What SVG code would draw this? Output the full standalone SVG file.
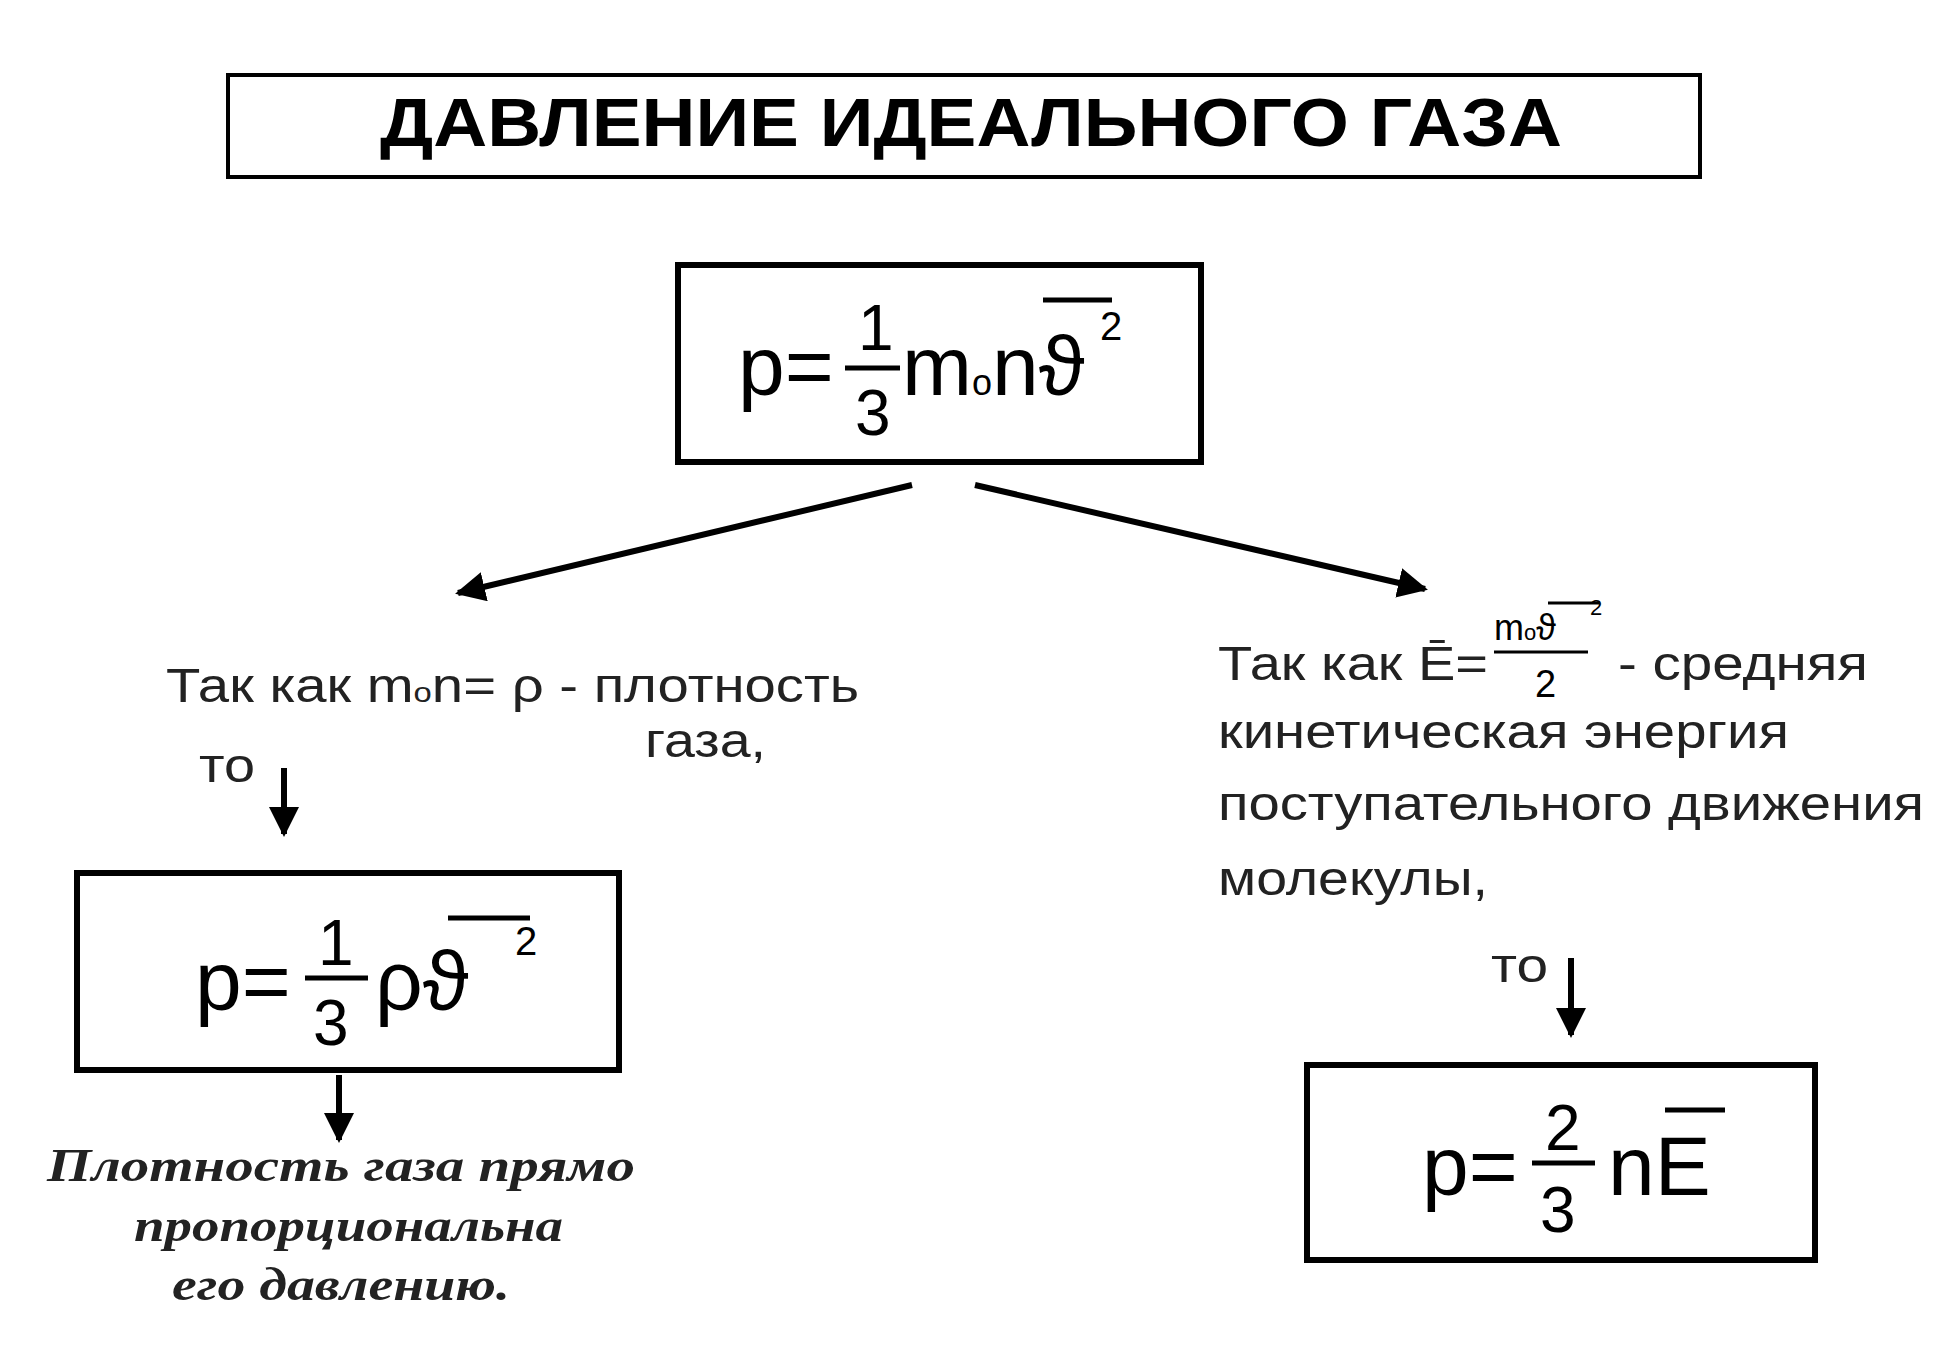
<svg xmlns="http://www.w3.org/2000/svg" width="1947" height="1350" viewBox="0 0 1947 1350">
<defs>
<marker id="ah" viewBox="0 0 10 10" refX="9" refY="5" markerWidth="5" markerHeight="5" orient="auto" markerUnits="strokeWidth"><path d="M0,0 L10,5 L0,10 z" fill="#000"/></marker>
<style>
.box{fill:#fff;stroke:#000;stroke-width:6}
.f{font-family:"Liberation Sans",Arial,sans-serif;fill:#000}
.t{font-family:"Liberation Sans",Arial,sans-serif;font-size:48px;fill:#222}
.it{font-family:"Liberation Serif","Times New Roman",serif;font-style:italic;font-weight:bold;font-size:46px;fill:#222}
.ln{stroke:#000;stroke-width:6;fill:none}
</style>
</defs>
<rect width="1947" height="1350" fill="#fff"/>
<g id="title"><rect x="228" y="75" width="1472" height="102" fill="#fff" stroke="#000" stroke-width="4"/>
<text x="380" y="146" class="f" font-size="68" font-weight="bold" textLength="1182" lengthAdjust="spacingAndGlyphs">ДАВЛЕНИЕ ИДЕАЛЬНОГО ГАЗА</text></g>
<g id="f1"><rect class="box" x="678" y="265" width="523" height="197"/>
<text x="738" y="395" class="f" font-size="84">p=</text>
<text x="858" y="350" class="f" font-size="64">1</text>
<line x1="845" y1="368" x2="900" y2="368" stroke="#000" stroke-width="5"/>
<text x="855" y="435" class="f" font-size="64">3</text>
<text x="902" y="395" class="f" font-size="84">m</text>
<text x="972" y="395" class="f" font-size="36">o</text>
<text x="992" y="395" class="f" font-size="84">nϑ</text>
<line x1="1043" y1="300" x2="1112" y2="300" stroke="#000" stroke-width="5"/>
<text x="1100" y="340" class="f" font-size="40">2</text></g>
<g id="connectors">
<line class="ln" x1="912" y1="485" x2="458" y2="593" marker-end="url(#ah)"/>
<line class="ln" x1="975" y1="485" x2="1425" y2="589" marker-end="url(#ah)"/>
<line class="ln" x1="284" y1="768" x2="284" y2="834" marker-end="url(#ah)"/>
<line class="ln" x1="339" y1="1075" x2="339" y2="1140" marker-end="url(#ah)"/>
<line class="ln" x1="1571" y1="958" x2="1571" y2="1035" marker-end="url(#ah)"/>
</g>
<g id="leftText">
<text x="166" y="702" class="t" textLength="693" lengthAdjust="spacingAndGlyphs">Так как m<tspan font-size="28">o</tspan>n= ρ - плотность</text>
<text x="645" y="757" class="t" textLength="121" lengthAdjust="spacingAndGlyphs">газа,</text>
<text x="199" y="782" class="t" textLength="56" lengthAdjust="spacingAndGlyphs">то</text></g>
<g id="f2"><rect class="box" x="77" y="873" width="542" height="197"/>
<text x="195" y="1010" class="f" font-size="84">p=</text>
<text x="318" y="965" class="f" font-size="64">1</text>
<line x1="305" y1="978" x2="368" y2="978" stroke="#000" stroke-width="5"/>
<text x="313" y="1045" class="f" font-size="64">3</text>
<text x="375" y="1010" class="f" font-size="84">ρϑ</text>
<line x1="448" y1="918" x2="530" y2="918" stroke="#000" stroke-width="5"/>
<text x="515" y="955" class="f" font-size="40">2</text></g>
<g id="conclusion">
<text x="47" y="1181" class="it" textLength="588" lengthAdjust="spacingAndGlyphs">Плотность газа прямо</text>
<text x="134" y="1241" class="it" textLength="429" lengthAdjust="spacingAndGlyphs">пропорциональна</text>
<text x="172" y="1300" class="it" textLength="338" lengthAdjust="spacingAndGlyphs">его давлению.</text></g>
<g id="rightText">
<text x="1218" y="680" class="t" textLength="270" lengthAdjust="spacingAndGlyphs">Так как Ē=</text>
<text x="1494" y="640" class="f" font-size="36">m<tspan font-size="22">o</tspan>ϑ</text>
<line x1="1548" y1="603" x2="1600" y2="603" stroke="#000" stroke-width="3"/>
<text x="1590" y="615" class="f" font-size="22">2</text>
<line x1="1494" y1="652" x2="1588" y2="652" stroke="#000" stroke-width="3"/>
<text x="1535" y="697" class="f" font-size="38">2</text>
<text x="1618" y="680" class="t" textLength="250" lengthAdjust="spacingAndGlyphs">- средняя</text>
<text x="1218" y="748" class="t" textLength="571" lengthAdjust="spacingAndGlyphs">кинетическая энергия</text>
<text x="1218" y="820" class="t" textLength="706" lengthAdjust="spacingAndGlyphs">поступательного движения</text>
<text x="1218" y="895" class="t" textLength="270" lengthAdjust="spacingAndGlyphs">молекулы,</text>
<text x="1491" y="982" class="t" textLength="57" lengthAdjust="spacingAndGlyphs">то</text></g>
<g id="f3"><rect class="box" x="1307" y="1065" width="508" height="195"/>
<text x="1422" y="1195" class="f" font-size="84">p=</text>
<text x="1545" y="1150" class="f" font-size="64">2</text>
<line x1="1532" y1="1163" x2="1595" y2="1163" stroke="#000" stroke-width="5"/>
<text x="1540" y="1232" class="f" font-size="64">3</text>
<text x="1608" y="1195" class="f" font-size="84">nE</text>
<line x1="1665" y1="1110" x2="1725" y2="1110" stroke="#000" stroke-width="5"/>
</g>
</svg>
